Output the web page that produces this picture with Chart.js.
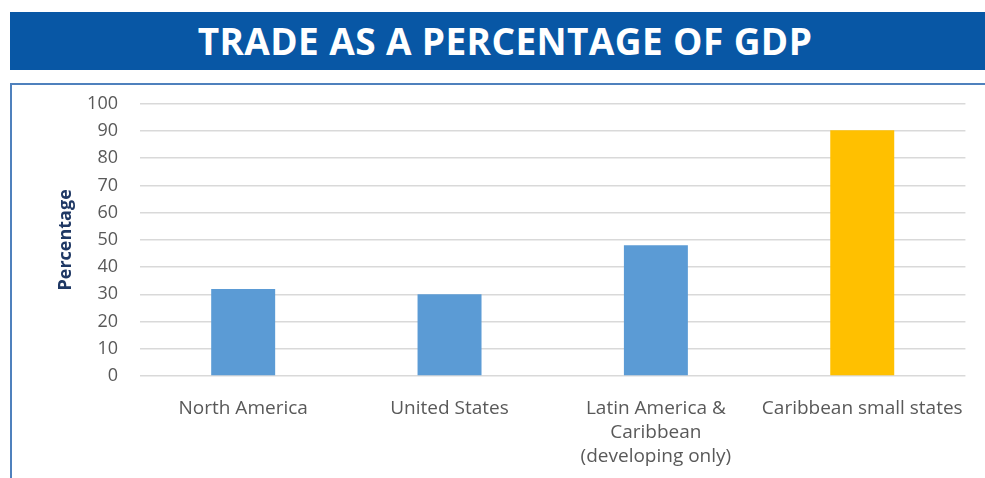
<!DOCTYPE html>
<html>
<head>
<meta charset="utf-8">
<script src="https://cdn.jsdelivr.net/npm/chart.js@4"></script>
<style>
  body { margin: 0; background: #fff; width: 985px; height: 478px; overflow: hidden; position: relative; }
  #banner {
    position: absolute; left: 10px; top: 12px; width: 975px; height: 58px;
    background: #0857a5; color: #fff;
    font-family: "Open Sans", sans-serif; font-weight: 700; font-size: 37px;
    letter-spacing: 0.4px;
    line-height: 58px; text-align: center; padding-left: 15px; box-sizing: border-box;
  }
  #frame {
    position: absolute; left: 10px; top: 83px; width: 990px; height: 420px;
    border-top: 2px solid #4f81bd; border-left: 2px solid #4f81bd;
  }
  #wrap { position: absolute; left: 12px; top: 71px; width: 973px; height: 407px; }
</style>
</head>
<body>
<div id="banner">TRADE AS A PERCENTAGE OF GDP</div>
<div id="frame"></div>
<div id="wrap"><canvas id="chart"></canvas></div>
<script>
const categories = [
    ['North America'],
    ['United States'],
    ['Latin America &', 'Caribbean', '(developing only)'],
    ['Caribbean small states']
];
const tradeShare = [32, 30, 48, 90.3];
const barColors = ['#5b9bd5', '#5b9bd5', '#5b9bd5', '#ffc000'];
const yTicks = [0, 10, 20, 30, 40, 50, 60, 70, 80, 90, 100];

const ctx = document.getElementById('chart').getContext('2d');
new Chart(ctx, {
    type: 'bar',
    data: {
        labels: categories,
        datasets: [{
            label: 'Trade (% of GDP)',
            data: tradeShare,
            backgroundColor: barColors,
            barPercentage: 0.31,
            categoryPercentage: 1
        }]
    },
    options: {
        responsive: true,
        maintainAspectRatio: false,
        animation: false,
        layout: { padding: { top: 0, right: 19, left: 0, bottom: 0 } },
        plugins: {
            legend: { display: false },
            tooltip: { enabled: false }
        },
        scales: {
            x: {
                grid: { display: false, drawTicks: false },
                border: { display: false },
                ticks: {
                    color: '#595959',
                    padding: 20,
                    maxRotation: 0,
                    font: { family: 'Open Sans', size: 19, lineHeight: 1.28 }
                },
                afterFit: scale => { scale.height = 102; }
            },
            y: {
                min: 0,
                max: 100,
                afterBuildTicks: scale => { scale.ticks = yTicks.map(v => ({ value: v })); },
                grid: { color: '#d9d9d9', lineWidth: 1.5, drawTicks: false },
                border: { display: false },
                ticks: {
                    color: '#595959',
                    padding: 22,
                    font: { family: 'Open Sans', size: 18 }
                },
                title: {
                    display: true,
                    text: 'Percentage',
                    color: '#1f3864',
                    padding: { top: 43, bottom: 0 },
                    font: { family: 'Open Sans', size: 18, weight: 'bold' }
                },
                afterFit: scale => { scale.width = 128; }
            }
        }
    }
});
</script>
</body>
</html>
